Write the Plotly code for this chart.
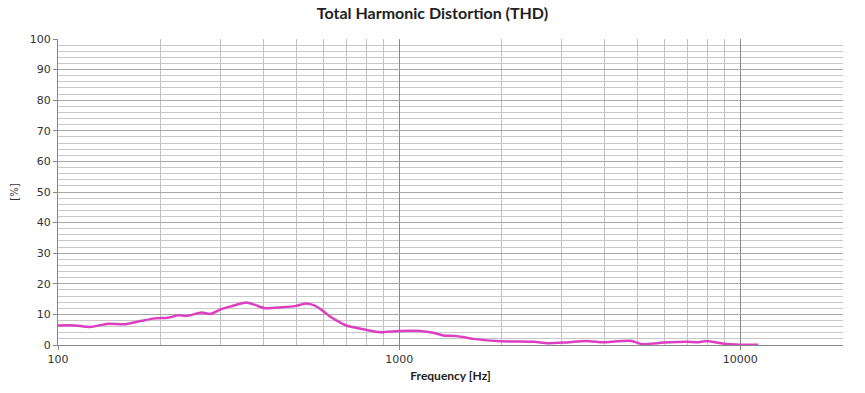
import plotly.graph_objects as go
import numpy as np

freq_hz = [100, 112, 124, 139, 157, 176, 192, 210, 225, 238, 264, 279, 302, 323, 356, 378, 405,
           453, 495, 532, 559, 594, 627, 649, 702, 744, 804, 880, 1000, 1152, 1260, 1349, 1477,
           1650, 1982, 2485, 2723, 3050, 3545, 3880, 4018, 4758, 5150, 5960, 6980, 7470, 7996,
           8940, 10000, 11300]
thd_pct = [6.4, 6.4, 5.9, 6.9, 6.8, 7.9, 8.7, 8.9, 9.7, 9.5, 10.6, 10.1, 11.8, 12.7, 13.9, 13.1, 12.0,
           12.3, 12.7, 13.6, 13.1, 11.4, 9.3, 8.3, 6.3, 5.7, 4.9, 4.2, 4.6, 4.6, 4.0, 3.1, 2.9,
           2.0, 1.2, 1.1, 0.6, 0.8, 1.3, 0.9, 0.9, 1.4, 0.3, 0.8, 1.1, 0.9, 1.3,
           0.4, 0.1, 0.1]

x_major = [100, 1000, 10000]
x_major_labels = ["100", "1000", "10000"]
x_minor = [200, 300, 400, 500, 600, 700, 800, 900,
           2000, 3000, 4000, 5000, 6000, 7000, 8000, 9000, 20000]
y_major = [0, 10, 20, 30, 40, 50, 60, 70, 80, 90, 100]

fig = go.Figure()
fig.add_trace(go.Scatter(
    x=freq_hz, y=thd_pct, mode="lines",
    line=dict(color="#DC3FC0", width=2.5, shape="spline", smoothing=0.6),
    showlegend=False, hoverinfo="x+y"))

fig.update_layout(
    width=865, height=393,
    margin=dict(l=58, r=22, t=39, b=48),
    paper_bgcolor="white", plot_bgcolor="white",
    title=dict(text="<b>Total Harmonic Distortion (THD)</b>", x=0.5, xref="container",
               y=0.966, yref="container", xanchor="center", yanchor="middle",
               font=dict(family="Lato, Open Sans, sans-serif", size=16, color="#222")),
    font=dict(family="DejaVu Sans, Verdana, sans-serif", size=11, color="#333"),
)
fig.update_xaxes(
    type="log", range=[2, np.log10(20000)], automargin=False,
    tickmode="array", tickvals=x_major, ticktext=x_major_labels,
    ticks="outside", ticklen=4, tickcolor="#888",
    showgrid=True, gridcolor="#8a8a8a", gridwidth=1,
    showline=True, linecolor="#888", linewidth=1,
    minor=dict(tickmode="array", tickvals=x_minor, showgrid=True,
               gridcolor="#c0c0c0", gridwidth=1, ticks=""),
    tickfont=dict(family="DejaVu Sans, Verdana, sans-serif", size=11, color="#333"),
    title=dict(text="<b>Frequency [Hz]</b>", standoff=6,
               font=dict(family="Lato, Open Sans, sans-serif", size=12, color="#222")),
    zeroline=False,
)
fig.update_yaxes(
    range=[0, 100], automargin=False,
    tickmode="array", tickvals=y_major,
    ticks="outside", ticklen=4, tickcolor="#888",
    showgrid=True, gridcolor="#a8a8a8", gridwidth=1,
    showline=True, linecolor="#888", linewidth=1,
    minor=dict(dtick=2, showgrid=True, gridcolor="#c8c8c8", gridwidth=1, ticks=""),
    tickfont=dict(family="DejaVu Sans, Verdana, sans-serif", size=11, color="#333"),
    title=dict(text="[%]", standoff=9,
               font=dict(family="DejaVu Sans, Verdana, sans-serif", size=10, color="#333")),
    zeroline=False, mirror=False,
)

fig.write_html("out.html",
               config={"displayModeBar": False},
               post_script="document.body.style.margin='0';document.body.style.overflow='hidden';")
